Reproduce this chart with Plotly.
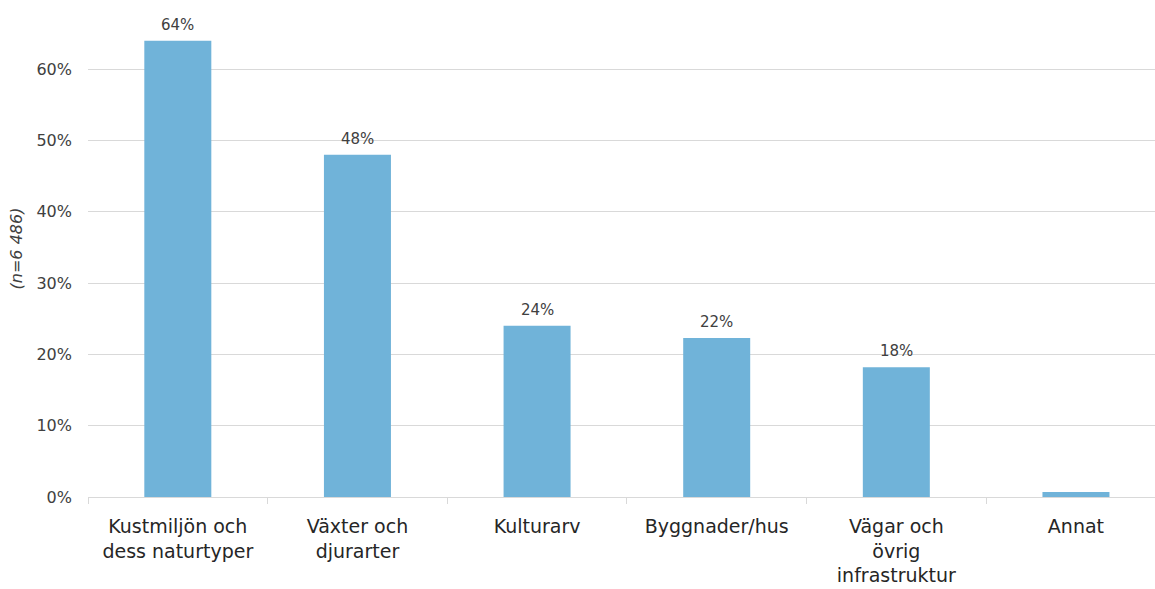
import plotly.graph_objects as go

categories = ["Kustmiljön och<br>dess naturtyper", "Växter och<br>djurarter", "Kulturarv",
              "Byggnader/hus", "Vägar och<br>övrig<br>infrastruktur", "Annat"]
values = [0.64, 0.48, 0.24, 0.223, 0.182, 0.007]
labels = ["64%", "48%", "24%", "22%", "18%", ""]
tick_vals = [0, 0.1, 0.2, 0.3, 0.4, 0.5, 0.6]
tick_text = ["0%", "10%", "20%", "30%", "40%", "50%", "60%"]

font_family = "'DejaVu Sans', sans-serif"

fig = go.Figure(go.Bar(
    x=categories, y=values,
    marker=dict(color="#70B3D9", line=dict(width=0)),
    width=0.373, cliponaxis=False, hoverinfo="skip",
))

for c, v, t in zip(categories, values, labels):
    if t:
        fig.add_annotation(x=c, y=v, text=t, showarrow=False, yanchor="bottom", yshift=5,
                           font=dict(size=15, color="#404040", family=font_family))

fig.update_layout(
    width=1155, height=589,
    margin=dict(l=88, r=0, t=0, b=92),
    paper_bgcolor="white", plot_bgcolor="white",
    showlegend=False,
    font=dict(family=font_family, color="#404040"),
    xaxis=dict(
        automargin=False, range=[-0.5, 5.44],
        showgrid=False, showline=True, linecolor="#D9D9D9", linewidth=1,
        ticks="outside", tickson="boundaries", ticklen=6, tickcolor="#D9D9D9",
        tickfont=dict(size=19, color="#262626"), ticklabelstandoff=12,
    ),
    yaxis=dict(
        automargin=False,
        range=[0, 0.697], tickvals=tick_vals, ticktext=tick_text,
        showgrid=True, gridcolor="#D9D9D9", gridwidth=1, zeroline=False,
        tickfont=dict(size=16, color="#404040"), ticklabelstandoff=15,
        title=dict(text="<i>(n=6 486)</i>", font=dict(size=16, color="#404040"), standoff=9),
    ),
)

fig.write_html("out.html", config={"displayModeBar": False},
               post_script="document.body.style.margin='0';")
